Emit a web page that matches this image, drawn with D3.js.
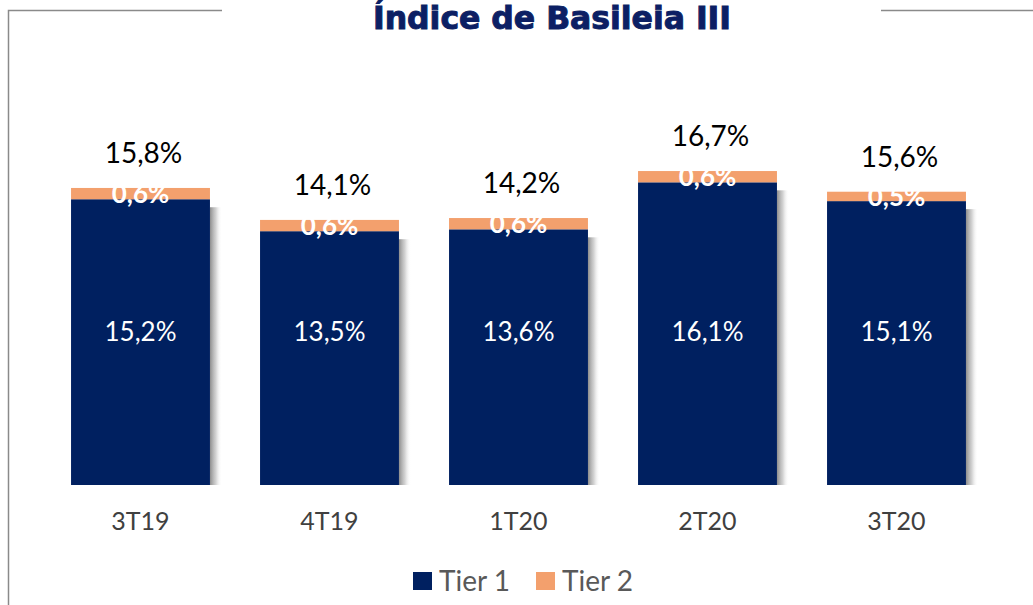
<!DOCTYPE html>
<html>
<head>
<meta charset="utf-8">
<script src="https://cdn.jsdelivr.net/npm/d3@7"></script>
<style>
  html, body { margin: 0; padding: 0; background: #ffffff; }
  svg { display: block; }
</style>
</head>
<body>
<svg id="chart" width="1033" height="605"></svg>
<script>
// Quarters and capital ratio components (%)
const categories = ["3T19", "4T19", "1T20", "2T20", "3T20"];
const tier1 = [15.2, 13.5, 13.6, 16.1, 15.1];
const tier2 = [0.6, 0.6, 0.6, 0.6, 0.5];
const totals = [15.8, 14.1, 14.2, 16.7, 15.6];
const seriesNames = ["Tier 1", "Tier 2"];
const titleText = "Índice de Basileia III";

const navy = "#002060", orange = "#f3a06d";
const fmt = v => v.toFixed(1).replace(".", ",") + "%";
const font = "Lato, 'Open Sans', sans-serif";

const svg = d3.select("#chart");

// Frame lines around the chart area, broken by the title
const frame = svg.append("g").attr("stroke", "#8a8a8a").attr("stroke-width", 1.5).attr("fill", "none");
frame.append("path").attr("d", "M8.5,605 V10.5 H222");
frame.append("path").attr("d", "M881,10.5 H1033");

// Title (condensed, heavy)
svg.append("text")
  .attr("x", 552).attr("y", 28.5)
  .attr("text-anchor", "middle")
  .attr("textLength", 358).attr("lengthAdjust", "spacingAndGlyphs")
  .style("font-family", "'DejaVu Sans Condensed', 'Liberation Sans', Arial, sans-serif")
  .style("font-weight", "bold")
  .style("font-size", "31.5px")
  .attr("fill", "#0c1f64")
  .attr("stroke", "#0c1f64").attr("stroke-width", 0.9)
  .text(titleText);

// Scales
const x = d3.scaleBand().domain(categories).range([46, 991]).paddingInner(0.265).paddingOuter(0.1325);
const y = d3.scaleLinear().domain([0, 20]).range([485, 109]);

const data = categories.map((c, i) => ({ c, t1: tier1[i], t2: tier2[i], total: totals[i] }));

// Soft shadow to the right of each bar
const defs = svg.append("defs");
const grad = defs.append("linearGradient").attr("id", "barShadow").attr("x1", 0).attr("x2", 1).attr("y1", 0).attr("y2", 0);
grad.append("stop").attr("offset", 0).attr("stop-color", "#707070").attr("stop-opacity", 0.8);
grad.append("stop").attr("offset", 0.5).attr("stop-color", "#a8a8a8").attr("stop-opacity", 0.5);
grad.append("stop").attr("offset", 1).attr("stop-color", "#ffffff").attr("stop-opacity", 0);

const bars = svg.append("g");
bars.selectAll("rect.shadow").data(data).join("rect")
  .attr("class", "shadow")
  .attr("x", d => x(d.c) + x.bandwidth())
  .attr("y", d => y(d.t1) + 8)
  .attr("width", 12)
  .attr("height", d => y(0) - y(d.t1) - 8)
  .attr("fill", "url(#barShadow)");

bars.selectAll("rect.t1").data(data).join("rect")
  .attr("class", "t1")
  .attr("x", d => x(d.c)).attr("width", x.bandwidth())
  .attr("y", d => y(d.t1)).attr("height", d => y(0) - y(d.t1))
  .attr("fill", navy);

bars.selectAll("rect.t2").data(data).join("rect")
  .attr("class", "t2")
  .attr("x", d => x(d.c)).attr("width", x.bandwidth())
  .attr("y", d => y(d.t1 + d.t2)).attr("height", d => y(d.t1) - y(d.t1 + d.t2))
  .attr("fill", orange);

// Value labels
const labels = svg.append("g").attr("text-anchor", "middle").style("font-family", font);

labels.selectAll("text.t1").data(data).join("text")
  .attr("x", d => x(d.c) + x.bandwidth() / 2)
  .attr("y", 332).attr("dy", "0.35em")
  .attr("fill", "#ffffff").style("font-size", "26px")
  .text(d => fmt(d.t1));

labels.selectAll("text.t2").data(data).join("text")
  .attr("x", d => x(d.c) + x.bandwidth() / 2)
  .attr("y", d => y(d.t1 + d.t2 / 2)).attr("dy", "0.36em")
  .attr("fill", "#ffffff").style("font-size", "26px").style("font-weight", "bold")
  .text(d => fmt(d.t2));

labels.selectAll("text.total").data(data).join("text")
  .attr("x", d => x(d.c) + x.bandwidth() / 2 + 3)
  .attr("y", d => y(d.total) - 25)
  .attr("fill", "#000000").style("font-size", "28px")
  .text(d => fmt(d.total));

// Category axis labels
svg.append("g").selectAll("text").data(categories).join("text")
  .attr("x", d => x(d) + x.bandwidth() / 2)
  .attr("y", 521).attr("dy", "0.35em")
  .attr("text-anchor", "middle")
  .style("font-family", font).style("font-size", "25px")
  .attr("fill", "#404040")
  .text(d => d);

// Legend
const legendColors = [navy, orange];
const legend = svg.append("g");
const legendX = [413, 536];
seriesNames.forEach((name, i) => {
  legend.append("rect").attr("x", legendX[i]).attr("y", 572).attr("width", 19).attr("height", 18).attr("fill", legendColors[i]);
  legend.append("text").attr("x", legendX[i] + 26).attr("y", 581).attr("dy", "0.36em")
    .style("font-family", font).style("font-size", "28px").attr("fill", "#595959")
    .text(name);
});
</script>
</body>
</html>
